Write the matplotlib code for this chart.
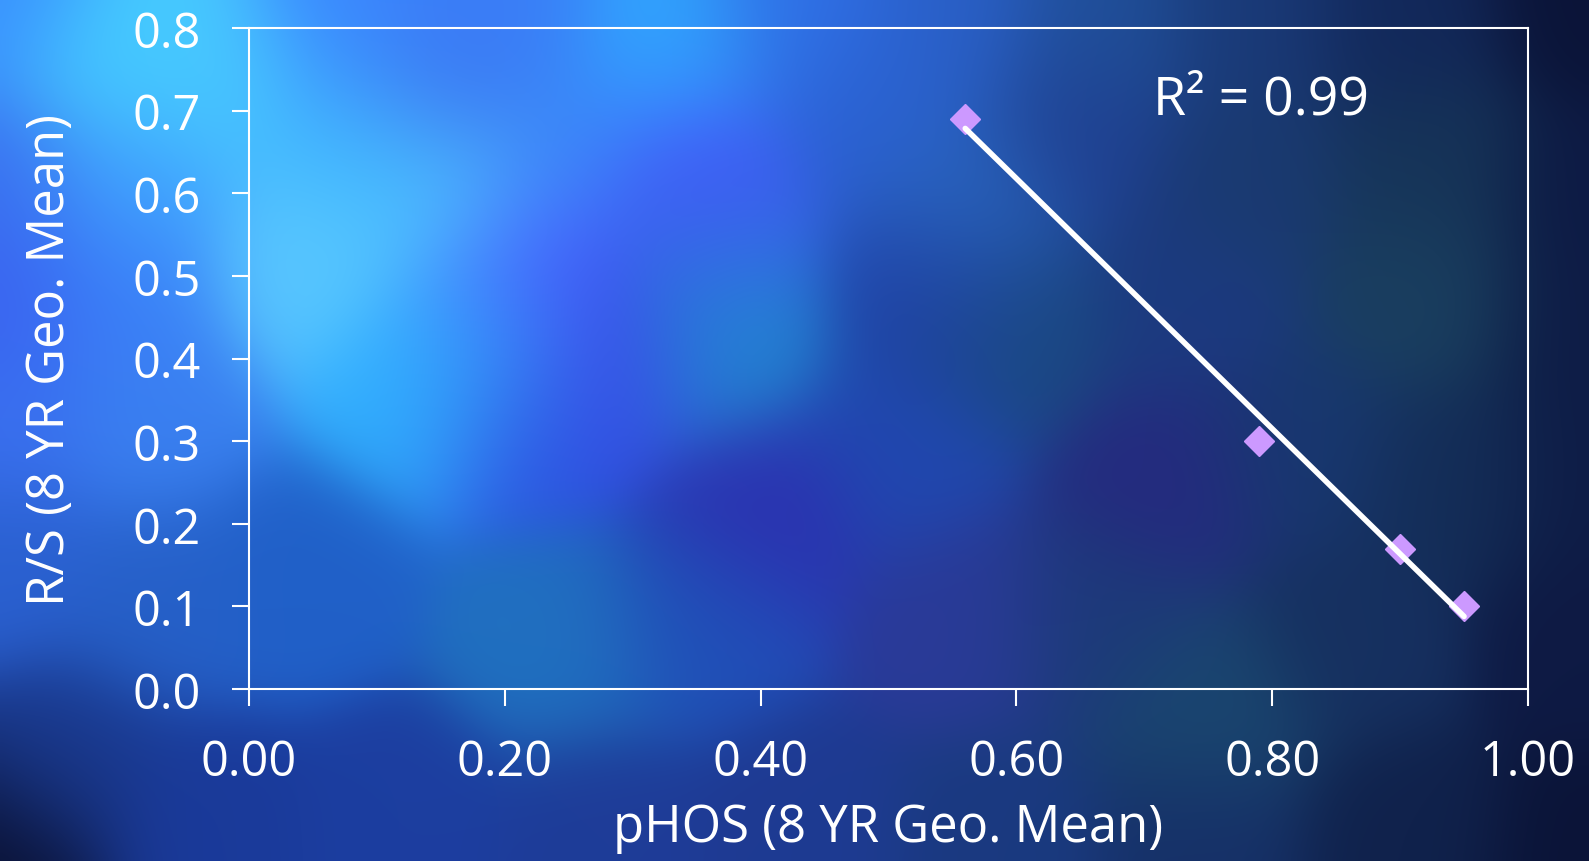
import numpy as np
import matplotlib
matplotlib.use('Agg')
import matplotlib.pyplot as plt
from matplotlib.colors import to_rgb

# data
phos = [0.56, 0.79, 0.90, 0.95]
rs = [0.69, 0.30, 0.17, 0.10]
r_squared = 0.99

x_ticks = [0.0, 0.2, 0.4, 0.6, 0.8, 1.0]
y_ticks = [0.0, 0.1, 0.2, 0.3, 0.4, 0.5, 0.6, 0.7, 0.8]

# background colour anchors, in figure pixels (x from left, y from top)
bg_px = [0, 110, 215, 350, 500, 669, 800, 950, 1100, 1250, 1400, 1589,
         0, 130, 353, 445, 450, 560, 695, 863, 1076, 1250, 1427, 1589,
         0, 120, 302, 527, 710, 965, 924, 1010, 1180, 1427, 1589,
         491, 608, 720,
         0, 150, 414, 532, 761, 900, 1164, 1300, 1450, 1589,
         0, 160, 302, 557, 700, 965, 1100, 1207, 1350, 1589,
         0, 60, 200, 400, 600, 800, 1000, 1200, 1400, 1589]
bg_py = [0, 60, 76, 20, 20, 51, 20, 20, 20, 20, 20, 0,
         180, 180, 144, 76, 198, 150, 181, 114, 137, 180, 170, 200,
         300, 300, 261, 266, 240, 198, 291, 330, 300, 291, 320,
         341, 350, 337,
         420, 420, 388, 417, 514, 450, 484, 450, 480, 480,
         560, 600, 577, 640, 620, 619, 620, 715, 640, 640,
         862, 760, 830, 820, 840, 830, 840, 840, 840, 862]
bg_col = ['#3a90ff', '#45d0ff', '#48c8ff', '#3a88ff', '#3a80f8', '#30a8ff',
          '#3070e8', '#2a60c8', '#20509a', '#1a3a78', '#12285a', '#0b1438',
          '#3a70f0', '#40a0ff', '#40b8ff', '#3c70f0', '#50c8ff', '#3a88f8',
          '#4850ff', '#2a60d0', '#1f3f90', '#1a3a70', '#163458', '#0d1a44',
          '#3a60f0', '#3a80f8', '#5ac8ff', '#4850ff', '#3070e0', '#2a68c0',
          '#2040a8', '#1a4a80', '#1c3a80', '#1a4060', '#0e1c46',
          '#38a8ff', '#3c48e8', '#2088d0',
          '#3a70f0', '#3a80f0', '#30b0ff', '#2c50e0', '#2c30b0', '#2048b0',
          '#252a80', '#183870', '#142e58', '#0e1c46',
          '#2a60d0', '#2660c8', '#2060c8', '#2070c0', '#2050b8', '#2a3a98',
          '#1c3a78', '#1a4870', '#163060', '#0e1a44',
          '#0a1030', '#1a3a90', '#1a3a9a', '#1c3ea0', '#1e3c98', '#1e3a92',
          '#1a3a80', '#163068', '#10224c', '#0b1438']


def make_background(w=1589, h=862, step=4, sigma=64.0):
    gx, gy = np.meshgrid(np.arange(0, w, step), np.arange(0, h, step))
    num = np.zeros(gx.shape + (3,))
    den = np.zeros(gx.shape + (1,))
    for px, py, c in zip(bg_px, bg_py, bg_col):
        wgt = np.exp(-((gx - px) ** 2 + (gy - py) ** 2) / (2 * sigma ** 2))
        num += wgt[..., None] * np.array(to_rgb(c))
        den += wgt[..., None]
    return num / np.maximum(den, 1e-12)


plt.rcParams['font.family'] = ['Open Sans', 'DejaVu Sans']

fig = plt.figure(figsize=(15.89, 8.62), dpi=100)
bg = fig.add_axes([0, 0, 1, 1], zorder=-1)
bg.imshow(make_background(), aspect='auto', interpolation='bicubic')
bg.axis('off')

ax = fig.add_axes([249 / 1589, 1 - 690 / 862, 1279 / 1589, 661 / 862])
ax.set_facecolor('none')

# linear trendline through the points
fit = np.polyfit(phos, rs, 1)
fx = np.array([min(phos), max(phos)])
ax.plot(phos, rs, 'D', color='#cc99ff', markersize=15.5, zorder=2)
ax.plot(fx, np.polyval(fit, fx), color='white', lw=4,
        solid_capstyle='round', zorder=3)

ax.text(0.707, 0.696, 'R² = %.2f' % r_squared, color='white', fontsize=38.5,
        va='baseline', ha='left')

ax.set_xlim(0, 1)
ax.set_ylim(0, 0.8)
ax.set_xticks(x_ticks)
ax.set_yticks(y_ticks)
ax.set_xticklabels(['%.2f' % v for v in x_ticks])
ax.set_yticklabels(['%.1f' % v for v in y_ticks])
ax.tick_params(colors='white', labelsize=35, length=12, width=1.5,
               direction='out')
ax.tick_params(axis='x', pad=23)
ax.tick_params(axis='y', pad=23)
for sp in ax.spines.values():
    sp.set_color('white')
    sp.set_linewidth(1.5)

ax.set_xlabel('pHOS (8 YR Geo. Mean)', color='white', fontsize=36.5,
              labelpad=11)
ax.set_ylabel('R/S (8 YR Geo. Mean)', color='white', fontsize=36.5,
              labelpad=40)

fig.savefig('out.png', dpi=100)
